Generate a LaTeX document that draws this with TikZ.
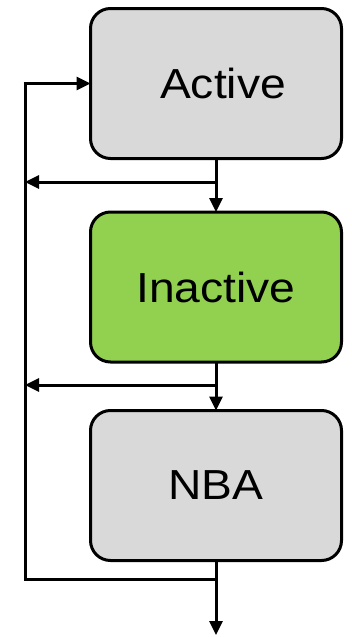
\documentclass[tikz,border=0pt]{standalone}
\usepackage{fontspec}
\setmainfont{Liberation Sans}
\usetikzlibrary{arrows.meta}
\definecolor{boxgray}{HTML}{D9D9D9}
\definecolor{boxgreen}{HTML}{92D050}
\newcommand{\widelabel}[1]{\scalebox{1.1}[1]{#1}}
\tikzset{
  statebox/.style={draw=black, line width=3pt, rounded corners=20pt,
    minimum width=251pt, minimum height=150pt, outer sep=0pt,
    inner sep=0pt, font=\fontsize{42}{50}\selectfont},
  flow/.style={line width=3pt, -{Triangle[length=14pt,width=13pt]}},
  plain/.style={line width=3pt},
}
\begin{document}
\begin{tikzpicture}[x=1pt,y=1pt]
  \useasboundingbox (0,0) rectangle (352,-637);
  % the three states
  \node[statebox, fill=boxgray]  (active)   at (216,-83.5) {\hspace{14pt}\widelabel{Active}};
  \node[statebox, fill=boxgreen] (inactive) at (216,-287)  {\widelabel{Inactive}};
  \node[statebox, fill=boxgray]  (nba)      at (216,-485.5) {\widelabel{NBA}};
  % corner points of the feedback loop
  \coordinate (split1) at (216,-182);
  \coordinate (split2) at (216,-385);
  \coordinate (split3) at (216,-579);
  \coordinate (rail1)  at (25,-182);
  \coordinate (rail2)  at (25,-385);
  \coordinate (bottom) at (25,-579);
  \coordinate (top)    at (25,-83.5);
  \coordinate (out)    at (216,-635);
  % downward flow
  \draw[flow] (active.south) -- (inactive.north);
  \draw[flow] (inactive.south) -- (nba.north);
  \draw[flow] (nba.south) -- (out);
  % branches back to the left rail
  \draw[flow] (split1) -- (rail1);
  \draw[flow] (split2) -- (rail2);
  % return rail into Active
  \draw[plain, line join=miter] (split3) -- (bottom) -- (top);
  \draw[flow] ([xshift=-1.5pt]top) -- (active.west);
\end{tikzpicture}
\end{document}
